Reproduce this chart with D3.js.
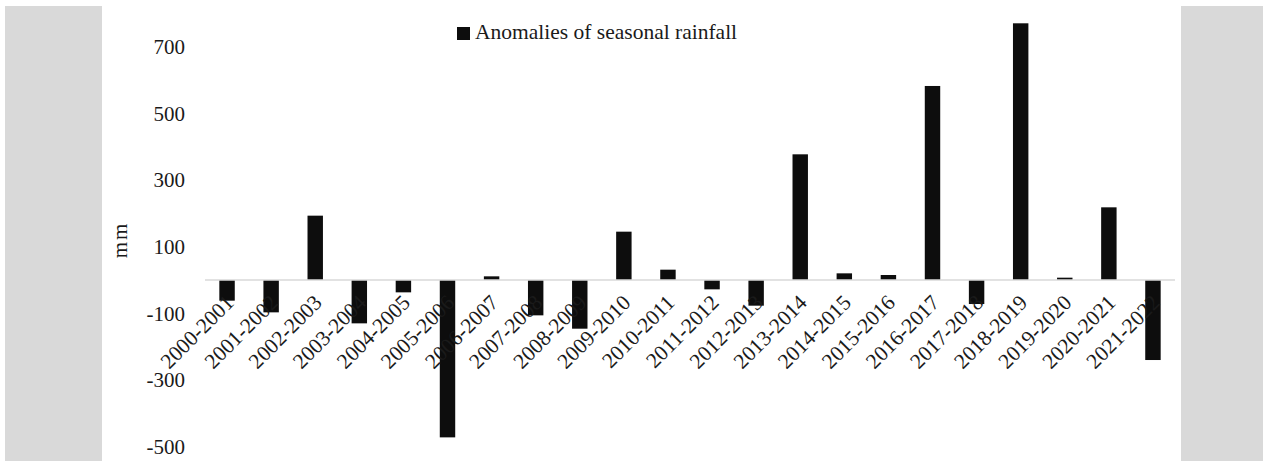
<!DOCTYPE html>
<html>
<head>
<meta charset="utf-8">
<script src="https://cdn.jsdelivr.net/npm/d3@7"></script>
<style>
html,body{margin:0;padding:0;background:#fff;}
svg{display:block;}
text{font-family:"Liberation Serif","Times New Roman",serif;}
</style>
</head>
<body>
<svg id="chart" width="1263" height="461"></svg>
<script>
const categories = ["2000-2001","2001-2002","2002-2003","2003-2004","2004-2005","2005-2006","2006-2007","2007-2008","2008-2009","2009-2010","2010-2011","2011-2012","2012-2013","2013-2014","2014-2015","2015-2016","2016-2017","2017-2018","2018-2019","2019-2020","2020-2021","2021-2022"];
const anomalies = [-62,-97,193,-130,-37,-472,11,-106,-146,145,31,-28,-77,377,20,15,582,-72,770,7,218,-240];
const yTicks = [-500,-300,-100,100,300,500,700];
const seriesName = "Anomalies of seasonal rainfall";
const yTitle = "mm";

const svg = d3.select("#chart");

// side panels
svg.append("rect").attr("x",5).attr("y",6).attr("width",97).attr("height",455).attr("fill","#d9d9d9");
svg.append("rect").attr("x",1181).attr("y",6).attr("width",82).attr("height",455).attr("fill","#d9d9d9");

const x = d3.scaleBand().domain(categories).range([205,1175]).paddingInner(0.65).paddingOuter(0.325);
const y = d3.scaleLinear().domain([-500,800]).range([446.7,13.3]);

// bars
svg.append("g").selectAll("rect").data(categories).join("rect")
  .attr("x", d => x(d))
  .attr("width", x.bandwidth())
  .attr("y", (d,i) => y(Math.max(0, anomalies[i])))
  .attr("height", (d,i) => Math.abs(y(anomalies[i]) - y(0)))
  .attr("fill", "#0d0d0d");

// zero line
svg.append("line").attr("x1",205).attr("x2",1175).attr("y1",y(0)).attr("y2",y(0))
  .attr("stroke","#d9d9d9").attr("stroke-width",1.5);

// y axis tick labels
const yAxis = d3.axisLeft(y).tickValues(yTicks).tickSize(0).tickPadding(0).tickFormat(d => String(d));
const gy = svg.append("g").attr("transform","translate(185,0)").call(yAxis);
gy.select(".domain").remove();
gy.selectAll("text").attr("font-size",21).attr("fill","#1a1a1a")
  .attr("font-family","Liberation Serif, Times New Roman, serif");

// x labels
const xAxis = d3.axisBottom(x).tickSize(0).tickPadding(0);
const gx = svg.append("g").attr("transform",`translate(0,${y(0)})`).call(xAxis);
gx.select(".domain").remove();
gx.selectAll("text")
  .attr("font-size",21.5).attr("fill","#1a1a1a")
  .attr("font-family","Liberation Serif, Times New Roman, serif")
  .attr("text-anchor","end")
  .attr("dy",null).attr("y",null)
  .attr("transform","translate(8,24) rotate(-45)");

// y title
svg.append("text").attr("transform","translate(127,240) rotate(-90)")
  .attr("text-anchor","middle").attr("font-size",21).attr("letter-spacing",2)
  .attr("fill","#1a1a1a").text(yTitle);

// legend
svg.append("rect").attr("x",457).attr("y",27).attr("width",13).attr("height",13).attr("fill","#0d0d0d");
svg.append("text").attr("x",475).attr("y",39).attr("font-size",21.5).attr("fill","#1a1a1a").text(seriesName);
</script>
</body>
</html>
